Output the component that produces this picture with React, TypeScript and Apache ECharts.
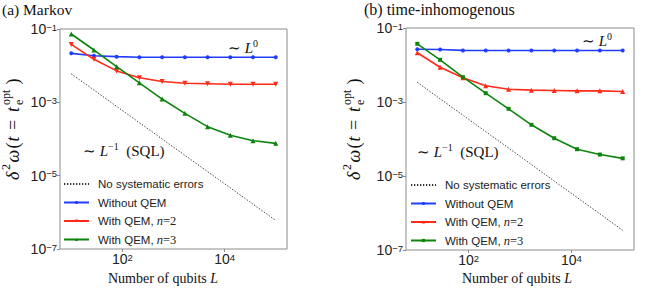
import React, { useEffect, useRef } from 'react';
import * as echarts from 'echarts';

// Number of qubits L (shared by both panels)
const qubits = [10, 27.8, 77.4, 215, 599, 1668, 4642, 12915, 35938, 100000];

// (a) Markov
const markovSQL = [6.0e-3, 2.16e-3, 7.75e-4, 2.79e-4, 1.0e-4, 3.6e-5, 1.29e-5, 4.65e-6, 1.67e-6, 6.0e-7];
const markovNoQEM = [0.0217, 0.0187, 0.0176, 0.017, 0.017, 0.017, 0.017, 0.017, 0.017, 0.017];
const markovQEM2 = [0.038, 0.0149, 0.0072, 0.0047, 0.0037, 0.0033, 0.0032, 0.0031, 0.0031, 0.0031];
const markovQEM3 = [0.073, 0.0267, 0.0094, 0.0034, 0.00123, 0.0005, 0.000217, 0.000126, 0.00009, 0.000076];

// (b) time-inhomogenous
const inhomSQL = [3.4e-3, 1.22e-3, 4.4e-4, 1.58e-4, 5.7e-5, 2.04e-5, 7.3e-6, 2.63e-6, 9.5e-7, 3.4e-7];
const inhomNoQEM = [0.0267, 0.0262, 0.0248, 0.0246, 0.0246, 0.0246, 0.0246, 0.0246, 0.0246, 0.0246];
const inhomQEM2 = [0.0214, 0.0087, 0.0045, 0.00274, 0.00222, 0.00209, 0.00205, 0.002, 0.002, 0.00192];
const inhomQEM3 = [0.0374, 0.0138, 0.00468, 0.00173, 0.000655, 0.000242, 0.000105, 5.3e-5, 3.8e-5, 3.0e-5];

// tick values
const xTicks = [100, 10000];
const yTicks = [1e-7, 1e-5, 1e-3, 1e-1];

const legendNames: Record<string, string> = {
  sql: 'No systematic errors',
  none: 'Without QEM',
  q2: 'With QEM, {i|n}{m|=2}',
  q3: 'With QEM, {i|n}{m|=3}',
};

const SERIF = 'Liberation Serif';
const SANS = 'Liberation Sans';
const GRAY = '#8c8c8c';
const BLUE = '#1f3cff';
const RED = '#ff2a17';
const GREEN = '#0d850d';

function expLabel(v: number) {
  const lg = Math.log10(v);
  const e = Math.round(lg);
  if (Math.abs(lg - e) > 0.01) return '';
  return `{b|10}{s|${e < 0 ? '\u2212' : ''}${Math.abs(e)}}`;
}

const labelRich = {
  b: { fontSize: 14, fontFamily: SANS, color: '#222', lineHeight: 14, verticalAlign: 'bottom' },
  s: { fontSize: 9.5, fontFamily: SANS, color: '#222', lineHeight: 9, verticalAlign: 'top' },
};

function pts(vals: number[]) {
  return qubits.map((q, i) => [q, vals[i]]);
}

function series(prefix: string, idx: number, sql: number[], none: number[], q2: number[], q3: number[], q2sym: any, q3sym: any) {
  const common = { type: 'line', xAxisIndex: idx, yAxisIndex: idx, smooth: false };
  return [
    { ...common, name: prefix + 'sql', data: pts(sql), symbol: 'circle', symbolSize: 0, showSymbol: false,
      lineStyle: { color: '#333', width: 1, type: [1.3, 1.7] }, itemStyle: { color: '#333' } },
    { ...common, name: prefix + 'none', data: pts(none), symbol: 'circle', symbolSize: 4,
      lineStyle: { color: BLUE, width: 1.6 }, itemStyle: { color: BLUE } },
    { ...common, name: prefix + 'q2', data: pts(q2), ...q2sym,
      lineStyle: { color: RED, width: 1.6 }, itemStyle: { color: RED } },
    { ...common, name: prefix + 'q3', data: pts(q3), ...q3sym,
      lineStyle: { color: GREEN, width: 1.6 }, itemStyle: { color: GREEN } },
  ];
}

function legend(prefix: string, left: number, top: number) {
  return {
    orient: 'vertical', left, top, padding: 0, itemGap: 4.5, itemWidth: 25, itemHeight: 4,
    data: [
      { name: prefix + 'sql', itemStyle: { color: 'rgba(0,0,0,0)', borderWidth: 0 } },
      { name: prefix + 'none' }, { name: prefix + 'q2' }, { name: prefix + 'q3' },
    ],
    formatter: (n: string) => legendNames[n.slice(1)],
    selectedMode: false,
    textStyle: {
      fontSize: 11.5, fontFamily: SANS, color: '#222', padding: [0, 0, 0, 4], lineHeight: 14,
      rich: {
        i: { fontFamily: SERIF, fontStyle: 'italic', fontSize: 12.5, color: '#222', lineHeight: 14 },
        m: { fontFamily: SERIF, fontSize: 12.5, color: '#222', lineHeight: 14 },
      },
    },
  };
}

function xAxis(gridIndex: number) {
  return {
    type: 'log', gridIndex, min: 6.0256, max: 165959,
    axisLine: { show: false }, splitLine: { show: false }, minorTick: { show: false },
    axisTick: { show: true, customValues: xTicks, length: 3, lineStyle: { color: GRAY } },
    axisLabel: { customValues: xTicks, formatter: expLabel, rich: labelRich, margin: 3 },
  };
}

function yAxis(gridIndex: number) {
  return {
    type: 'log', gridIndex, min: 1e-7, max: 1e-1,
    axisLine: { show: false }, splitLine: { show: false }, minorTick: { show: false },
    axisTick: { show: true, customValues: yTicks, length: 3, lineStyle: { color: GRAY } },
    axisLabel: { customValues: yTicks, formatter: expLabel, rich: labelRich, margin: 3 },
  };
}

function txt(x: number, y: number, text: string, size: number, extra: any = {}) {
  return {
    type: 'text', x, y, silent: true,
    style: {
      text, fontSize: size, fontFamily: SERIF, fill: '#111',
      align: 'left', textAlign: 'left', verticalAlign: 'middle', textVerticalAlign: 'middle',
      ...extra,
    },
  };
}

const annRich = {
  r: { fontSize: 15, fontFamily: SERIF, fill: '#111', color: '#111', lineHeight: 17, verticalAlign: 'bottom' },
  i: { fontSize: 15, fontFamily: SERIF, fontStyle: 'italic', fill: '#111', color: '#111', lineHeight: 17, verticalAlign: 'bottom' },
  s: { fontSize: 10, fontFamily: SERIF, fill: '#111', color: '#111', lineHeight: 10, verticalAlign: 'top' },
};

function yLabel(x: number, y: number) {
  const it = { fontStyle: 'italic' };
  return {
    type: 'group', x, y, rotation: Math.PI / 2, silent: true,
    children: [
      txt(0, 0, '\u03b4', 18, it),
      txt(10, -7, '2', 12),
      txt(17.5, 0, '\u03c9', 18, it),
      txt(31.5, 0, '(', 18),
      txt(38.5, 0, 't', 18, it),
      txt(50, 0, '=', 18),
      txt(68, 0, 't', 18, it),
      txt(75, 6, 'e', 12),
      txt(75, -7.5, 'opt', 12),
      txt(95.5, 0, ')', 18),
    ],
  };
}

function buildOption() {
  const xRich = { r: { fontSize: 14, fontFamily: SERIF, fill: '#111' }, i: { fontSize: 14, fontFamily: SERIF, fontStyle: 'italic', fill: '#111' } };
  return {
    animation: false,
    grid: [
      { left: 60, top: 29, width: 227, height: 220, show: true, borderColor: GRAY, borderWidth: 1, backgroundColor: 'transparent' },
      { left: 406, top: 28, width: 228, height: 222, show: true, borderColor: GRAY, borderWidth: 1, backgroundColor: 'transparent' },
    ],
    xAxis: [xAxis(0), xAxis(1)],
    yAxis: [yAxis(0), yAxis(1)],
    legend: [legend('a', 63, 177), legend('b', 410, 178)],
    series: [
      ...series('a', 0, markovSQL, markovNoQEM, markovQEM2, markovQEM3,
        { symbol: 'triangle', symbolSize: 5, symbolRotate: 180 },
        { symbol: 'triangle', symbolSize: 5 }),
      ...series('b', 1, inhomSQL, inhomNoQEM, inhomQEM2, inhomQEM3,
        { symbol: 'triangle', symbolSize: 5 },
        { symbol: 'rect', symbolSize: 4 }),
    ],
    graphic: [
      txt(2, 9, '(a) Markov', 15.5),
      txt(364, 9, '(b) time-inhomogenous', 16),
      txt(228, 47, '{r|\u223c }{i|L}{s|0}', 15, { rich: annRich }),
      txt(582, 40, '{r|\u223c }{i|L}{s|0}', 15, { rich: annRich }),
      txt(83, 150, '{r|\u223c }{i|L}{s|\u22121}{r|  (SQL)}', 15, { rich: annRich }),
      txt(417, 151, '{r|\u223c }{i|L}{s|\u22121}{r|  (SQL)}', 15, { rich: annRich }),
      txt(163, 278, '{r|Number of qubits }{i|L}', 14, { rich: xRich, align: 'center', textAlign: 'center' }),
      txt(517, 278, '{r|Number of qubits }{i|L}', 14, { rich: xRich, align: 'center', textAlign: 'center' }),
      yLabel(13, 180),
      yLabel(354, 180),
    ],
  };
}

export default function App() {
  const ref = useRef<HTMLDivElement>(null);
  useEffect(() => {
    if (!ref.current) return;
    const chart = echarts.init(ref.current, undefined, { renderer: 'svg' });
    chart.setOption(buildOption() as any);
    return () => chart.dispose();
  }, []);
  return <div ref={ref} style={{ position: 'fixed', left: 0, top: 0, width: 664, height: 288, background: '#fff' }} />;
}
